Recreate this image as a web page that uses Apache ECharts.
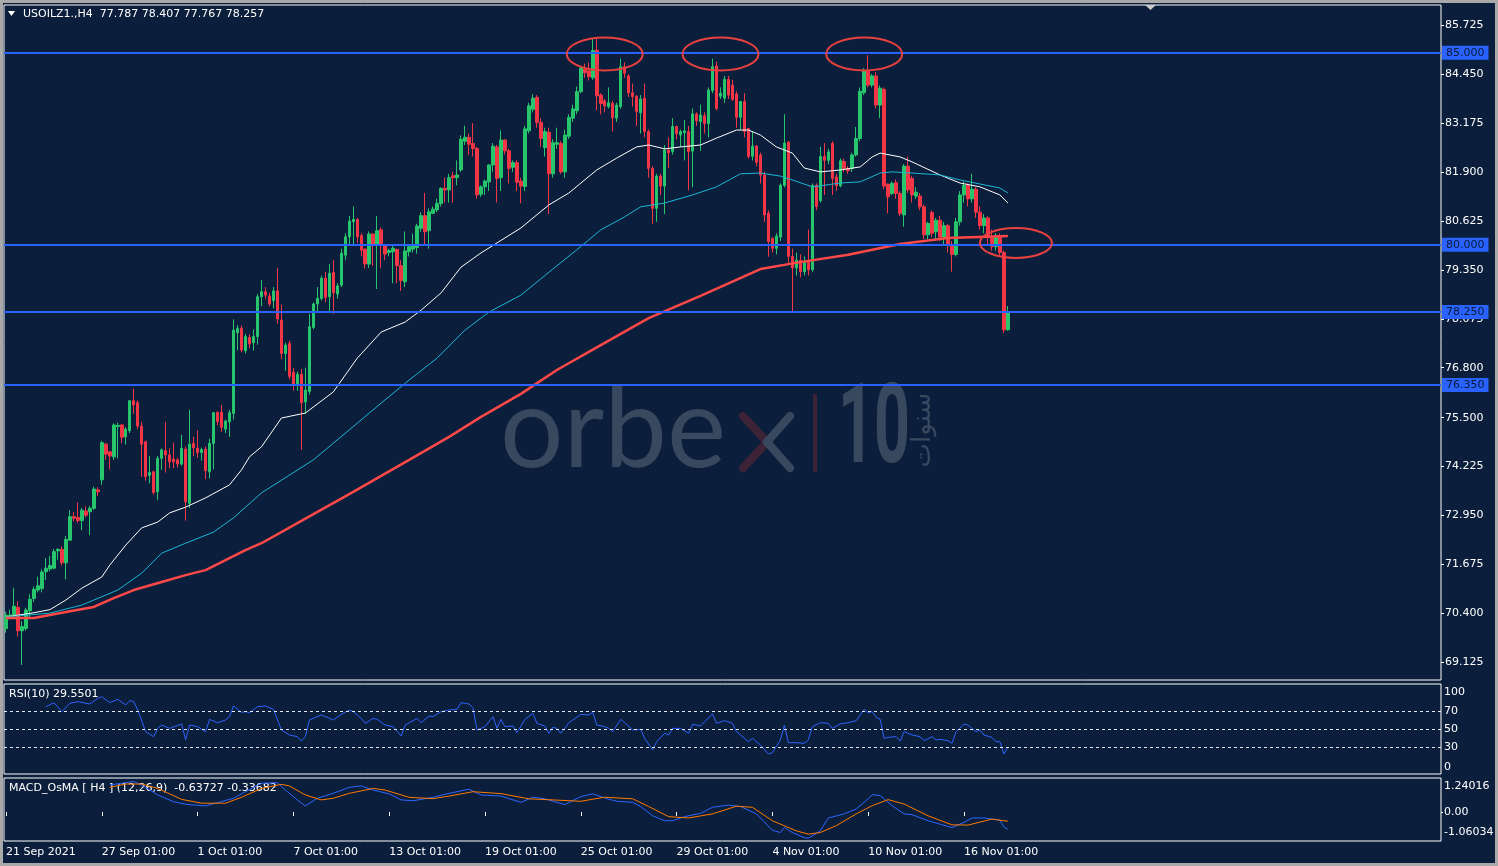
<!DOCTYPE html>
<html><head><meta charset="utf-8">
<script src="https://cdn.jsdelivr.net/npm/echarts@6/dist/echarts.min.js"></script>
<style>html,body{margin:0;padding:0;background:#0b1e3b;}#c{width:1498px;height:866px;}</style>
</head><body><div id="c"></div>
<script>
// ---------- DATA ----------
const open = [
70.01,70.30,70.36,70.56,69.95,70.01,70.47,70.79,71.01,71.05,
71.49,71.56,71.58,72.03,72.07,71.72,72.31,72.92,72.90,72.82,
73.07,73.05,73.14,73.62,73.88,74.81,74.61,74.48,75.27,75.31,
75.00,75.16,75.94,75.89,75.28,74.87,74.00,74.09,73.57,74.44,
74.64,74.53,74.42,74.40,74.29,74.68,73.27,74.83,74.70,74.59,
74.68,74.09,74.83,75.64,75.64,75.20,75.39,75.61,77.71,77.83,
77.24,77.59,77.45,77.61,78.65,78.78,78.67,78.55,78.80,78.04,
77.17,77.43,76.68,76.35,76.63,75.91,76.18,77.85,78.46,78.60,
79.13,78.65,79.28,78.72,78.95,79.73,80.21,80.60,80.66,80.24,
79.89,79.50,80.28,79.99,80.39,79.99,79.80,79.82,79.88,79.46,
79.04,79.82,79.89,79.93,80.43,80.76,80.37,80.82,80.91,81.08,
81.47,81.43,81.80,81.75,81.95,82.70,82.80,82.64,82.51,81.32,
81.51,81.64,82.08,82.55,81.75,82.73,82.45,82.02,82.14,81.66,
81.52,82.97,83.53,83.84,83.19,82.53,82.93,81.85,82.62,82.64,
81.90,82.83,83.30,83.49,83.99,84.57,84.53,84.35,85.07,83.90,
83.75,83.60,83.69,83.30,83.60,84.64,84.40,83.96,83.87,83.44,
83.82,82.95,81.99,80.95,81.79,81.53,82.47,82.43,83.08,82.86,
82.92,82.95,82.44,83.41,83.21,83.36,83.16,84.02,84.66,83.87,
83.82,84.31,84.16,83.93,83.32,83.73,83.03,82.31,82.57,82.34,
81.82,80.82,80.17,79.91,80.20,81.55,82.68,79.70,79.40,79.60,
79.30,79.55,79.35,81.55,81.15,82.30,82.20,82.64,81.77,81.54,
82.17,81.99,81.99,82.34,82.77,83.96,84.53,84.16,84.40,83.64,
84.05,81.58,81.34,81.62,81.34,80.78,82.05,81.73,81.27,81.27,
80.99,80.26,80.84,80.34,80.64,80.20,80.50,80.00,79.75,80.60,
81.30,81.55,81.20,81.45,80.85,80.50,80.70,80.20,79.95,80.20,
79.80,77.787];
const high = [
70.45,70.50,71.06,70.72,70.20,70.55,70.90,71.10,71.36,71.55,
71.84,71.90,72.08,72.10,72.15,72.42,73.09,73.05,73.29,73.15,
73.19,73.20,73.70,73.69,74.90,74.85,74.62,75.35,75.37,75.33,
75.25,75.96,76.25,75.95,75.39,74.90,74.50,74.12,74.50,74.70,
75.39,74.70,74.85,74.45,75.05,74.75,75.70,75.00,75.17,74.72,
74.75,74.95,75.65,75.66,75.83,75.45,75.70,78.06,77.91,77.90,
77.68,77.67,77.80,78.72,79.08,78.90,78.75,78.90,79.40,78.45,
77.45,77.50,76.80,76.70,76.77,76.80,78.20,78.50,78.90,79.20,
79.30,79.50,79.60,79.00,79.90,80.30,80.75,81.00,80.70,80.30,
79.90,80.35,80.30,80.75,80.45,80.00,79.90,80.00,79.90,79.60,
80.35,80.00,80.29,80.55,80.85,81.35,80.95,81.00,81.20,81.50,
81.75,81.85,81.90,82.20,82.85,83.10,82.90,83.17,82.55,81.55,
81.70,82.10,82.65,82.60,82.98,82.75,82.50,82.20,82.20,81.75,
83.10,83.70,83.92,83.90,83.30,83.05,83.05,82.75,83.05,82.70,
83.00,83.40,83.65,84.12,84.65,84.72,84.75,85.38,85.38,83.95,
83.80,84.10,83.75,83.70,84.85,84.75,84.45,84.20,83.90,83.90,
84.20,83.00,82.05,81.85,81.85,82.60,82.80,83.30,83.10,83.00,
83.25,83.10,83.55,83.45,83.65,83.45,84.10,84.85,84.77,84.10,
84.40,84.40,84.30,84.00,83.75,83.95,83.05,82.95,82.60,82.40,
81.90,80.90,80.20,80.30,81.60,83.40,82.70,79.90,79.80,79.75,
79.70,80.40,81.60,81.60,82.55,82.65,82.50,82.70,81.85,82.25,
82.25,82.05,82.40,83.07,84.10,84.60,84.94,84.45,84.50,84.15,
84.10,81.60,81.65,81.70,81.40,82.10,82.30,81.80,81.50,81.35,
81.05,80.60,80.90,80.70,80.75,80.60,80.55,80.10,80.70,81.40,
81.65,81.60,81.85,81.50,81.00,80.80,80.75,80.40,80.30,80.30,
79.85,78.407];
const low = [
69.90,70.25,70.30,69.80,69.06,69.95,70.30,70.70,70.95,70.95,
71.27,71.50,71.55,71.80,71.65,71.29,72.30,72.80,72.76,72.57,
72.90,72.44,73.10,73.46,73.75,74.40,74.15,74.40,74.44,74.83,
74.80,75.10,75.60,75.20,73.96,73.86,73.79,73.50,73.35,74.14,
74.07,74.18,74.18,74.20,74.25,72.82,73.15,74.50,74.45,74.38,
73.90,73.92,74.15,75.30,75.13,75.10,75.00,75.45,77.25,77.20,
77.17,77.31,77.25,77.40,78.40,78.60,78.40,78.35,77.95,77.02,
76.72,76.50,76.20,76.20,74.66,75.60,76.10,77.80,78.25,78.55,
78.50,78.25,78.20,78.60,78.90,79.60,80.00,80.00,80.05,79.70,
79.38,79.40,79.45,78.85,79.40,79.60,79.70,79.00,79.00,78.80,
78.90,79.70,79.80,79.77,80.34,80.00,79.90,80.80,80.85,81.00,
81.10,81.10,81.10,81.55,81.90,82.60,82.35,82.30,81.20,81.25,
81.30,81.40,81.90,81.10,81.40,82.35,81.60,81.90,81.40,81.08,
81.40,82.90,83.45,83.05,82.55,82.30,80.80,81.75,82.50,81.85,
81.75,82.76,83.20,83.40,83.95,84.35,84.28,84.30,83.50,83.40,
83.45,83.55,82.95,83.20,83.55,84.35,83.85,83.60,83.10,82.90,
82.80,81.75,80.55,80.60,81.30,80.80,82.00,82.35,82.75,82.55,
82.20,81.42,81.50,83.10,82.45,82.90,82.80,83.95,83.50,83.80,
83.70,83.80,83.75,83.05,83.00,82.80,82.25,82.20,82.05,81.60,
80.60,79.69,79.80,79.75,80.10,81.50,79.50,78.25,79.20,79.15,
79.20,79.20,79.30,80.90,81.10,81.30,82.10,81.30,81.40,81.50,
81.90,81.85,81.90,82.30,82.70,83.90,84.10,84.10,83.55,83.30,
81.45,80.82,81.30,81.20,80.75,80.47,81.35,81.10,81.20,80.90,
80.15,80.15,80.20,80.10,80.10,80.00,79.80,79.30,79.70,80.50,
81.10,81.00,81.10,80.70,80.40,80.30,80.00,79.85,79.85,79.70,
77.70,77.767];
const close = [
70.36,70.36,70.59,69.95,70.06,70.49,70.77,71.03,71.12,71.48,
71.58,71.65,72.01,72.07,71.72,72.33,72.92,72.88,72.82,73.09,
72.96,73.14,73.64,73.57,74.85,74.55,74.50,75.31,75.30,74.99,
75.20,75.94,75.83,75.28,74.81,73.96,74.07,73.55,74.44,74.66,
74.53,74.35,74.35,74.29,74.70,73.31,74.81,74.72,74.59,74.67,
74.12,74.83,75.63,75.39,75.25,75.41,75.63,77.78,77.83,77.26,
77.61,77.42,77.61,78.65,78.78,78.69,78.46,78.80,78.07,77.17,
77.39,76.57,76.35,76.63,75.89,76.22,77.87,78.46,78.61,79.13,
78.63,79.26,78.75,78.93,79.78,80.21,80.62,80.66,80.21,79.86,
79.50,80.28,79.99,80.37,79.99,79.76,79.85,79.91,79.46,79.07,
79.84,79.95,79.98,80.49,80.76,80.34,80.86,80.93,81.08,81.47,
81.43,81.75,81.75,81.82,82.75,82.80,82.62,82.51,81.30,81.51,
81.66,82.08,82.57,81.73,82.73,82.45,81.99,82.14,81.63,81.53,
83.02,83.62,83.82,83.19,82.77,82.95,81.85,82.66,82.66,81.90,
82.86,83.32,83.54,83.99,84.60,84.48,84.38,85.06,83.88,83.68,
83.62,83.70,83.31,83.64,84.64,84.47,83.96,83.86,83.47,83.80,
82.95,81.99,80.95,81.79,81.53,82.47,82.40,83.08,82.89,82.95,
82.97,82.43,83.41,83.23,83.38,83.16,84.03,84.64,83.55,83.95,
84.31,83.90,83.79,83.32,83.73,82.95,82.30,82.57,82.15,81.82,
80.78,80.08,79.91,80.23,81.55,82.65,79.70,79.40,79.60,79.30,
79.55,79.35,81.55,81.00,82.30,82.20,82.42,81.73,81.54,82.19,
81.99,81.93,82.34,82.77,84.00,84.53,84.16,84.40,83.64,84.08,
81.53,81.25,81.60,81.34,80.82,82.05,81.43,81.30,81.37,80.99,
80.26,80.56,80.30,80.64,80.20,80.50,80.00,79.75,80.60,81.30,
81.55,81.20,81.45,80.85,80.50,80.70,80.20,79.95,80.20,79.80,
77.787,78.257];

// moving averages, [bar index, value]
const maWhite = [[0,70.31],[7,70.42],[11,70.50],[15,70.75],[19,71.06],[24,71.35],[26,71.66],[30,72.18],[34,72.63],[38,72.78],[41,73.02],[45,73.17],[50,73.41],[56,73.75],[59,74.14],[61,74.48],[64,74.74],[69,75.49],[75,75.62],[82,76.17],[88,77.05],[94,77.73],[100,77.99],[104,78.30],[109,78.75],[114,79.42],[119,79.79],[123,80.05],[129,80.44],[136,81.04],[141,81.35],[148,81.95],[153,82.26],[158,82.55],[161,82.60],[165,82.50],[169,82.55],[174,82.60],[178,82.78],[183,82.99],[186,82.99],[189,82.86],[193,82.55],[197,82.39],[200,82.00],[204,81.90],[209,81.95],[214,82.03],[217,82.29],[219,82.39],[224,82.29],[227,82.16],[234,81.82],[239,81.61],[244,81.51],[249,81.30],[251,81.09]];
const maCyan = [[0,70.31],[11,70.41],[19,70.62],[28,71.01],[34,71.45],[39,71.97],[45,72.23],[52,72.52],[57,72.89],[64,73.54],[77,74.40],[86,75.18],[94,75.88],[101,76.48],[108,77.05],[115,77.78],[121,78.25],[129,78.69],[137,79.37],[143,79.87],[149,80.39],[155,80.73],[159,80.99],[165,81.09],[172,81.30],[178,81.51],[184,81.85],[189,81.87],[194,81.79],[197,81.69],[202,81.51],[209,81.61],[214,81.64],[219,81.87],[222,81.90],[227,81.87],[234,81.82],[239,81.69],[249,81.48],[251,81.35]];
const maRed = [[0,70.28],[7,70.28],[15,70.44],[22,70.57],[27,70.80],[32,71.01],[39,71.22],[45,71.40],[50,71.53],[55,71.79],[60,72.05],[64,72.23],[74,72.81],[86,73.51],[101,74.40],[111,75.00],[119,75.52],[129,76.12],[138,76.74],[149,77.39],[161,78.09],[174,78.67],[189,79.37],[199,79.55],[211,79.74],[224,80.02],[236,80.18],[251,80.23]];

const rsi = [[10,74.8],[12,79.3],[14,69.3],[16,78.5],[18,80.4],[21,77.8],[23,84.1],[24,85.9],[26,79.3],[28,83.0],[30,76.7],[31,81.5],[32,80.4],[33,71.1],[35,47.0],[37,41.5],[38,50.7],[39,54.4],[41,50.7],[44,55.6],[45,37.8],[46,54.4],[48,52.6],[50,47.0],[51,60.7],[53,57.0],[55,60.0],[56,63.7],[57,75.6],[59,68.5],[60,69.3],[61,68.1],[63,74.8],[65,75.6],[67,71.9],[69,48.9],[71,43.3],[73,41.5],[74,36.7],[75,41.5],[76,60.0],[79,65.6],[80,63.7],[82,60.0],[84,66.3],[86,71.1],[87,69.3],[89,61.8],[90,56.3],[92,61.8],[93,60.7],[95,54.4],[97,52.6],[99,42.2],[100,54.4],[103,61.8],[104,57.0],[106,64.4],[107,63.7],[109,69.3],[111,71.1],[113,71.9],[114,79.3],[116,77.8],[117,73.0],[118,48.9],[120,52.6],[122,63.7],[123,50.7],[124,60.7],[125,52.6],[127,53.3],[128,45.9],[130,60.7],[132,67.4],[133,56.3],[135,53.3],[136,45.2],[137,51.9],[138,50.7],[139,45.2],[141,57.0],[142,60.0],[144,66.3],[146,65.6],[147,68.5],[148,54.4],[150,52.6],[151,50.7],[152,47.0],[154,60.7],[155,57.0],[157,48.9],[159,49.6],[160,39.6],[162,26.7],[163,35.9],[165,45.2],[166,43.3],[167,50.7],[169,50.7],[171,45.2],[172,55.2],[174,53.3],[175,58.1],[177,66.7],[178,56.3],[180,59.3],[182,56.3],[183,47.0],[186,35.9],[187,39.6],[189,32.2],[191,22.2],[192,23.7],[194,37.8],[195,54.4],[196,34.8],[198,34.8],[200,34.1],[201,37.8],[202,52.6],[204,57.0],[206,56.3],[207,50.7],[209,55.6],[211,57.0],[213,59.3],[214,65.6],[215,71.9],[216,68.1],[217,69.3],[218,63.0],[219,60.7],[220,39.6],[221,40.7],[223,41.5],[224,36.7],[225,47.0],[227,43.3],[229,41.5],[230,37.0],[232,41.5],[233,37.8],[234,38.5],[236,37.0],[237,34.1],[238,47.0],[240,55.6],[241,54.4],[243,47.0],[244,48.9],[245,43.3],[247,40.7],[248,35.9],[249,35.9],[250,22.2],[251,29.55]];

const macdMain = [[26,0.985],[29,1.05],[32,1.11],[34,0.985],[38,0.62],[42,0.375],[45,0.28],[50,0.22],[53,0.34],[57,0.50],[60,0.74],[64,1.05],[68,1.07],[70,0.80],[73,0.44],[75,0.22],[78,0.50],[82,0.68],[86,0.90],[89,0.95],[92,0.80],[96,0.66],[99,0.44],[102,0.41],[107,0.535],[111,0.68],[116,0.83],[119,0.62],[124,0.58],[129,0.35],[132,0.54],[135,0.48],[140,0.27],[144,0.56],[147,0.66],[150,0.51],[153,0.39],[157,0.35],[159,0.20],[162,-0.14],[165,-0.32],[167,-0.32],[170,-0.17],[174,-0.05],[177,0.17],[181,0.25],[184,0.20],[188,-0.07],[192,-0.67],[194,-0.75],[195,-0.57],[197,-0.75],[200,-0.94],[201,-0.96],[204,-0.69],[206,-0.22],[210,-0.07],[213,0.11],[216,0.48],[217,0.63],[219,0.60],[222,0.23],[225,-0.07],[227,-0.10],[231,-0.32],[237,-0.57],[240,-0.38],[242,-0.22],[245,-0.22],[249,-0.30],[250,-0.55],[251,-0.63727]];
const macdSignal = [[26,0.90],[30,1.02],[34,1.02],[38,0.86],[44,0.46],[49,0.32],[55,0.32],[59,0.535],[64,0.86],[69,1.01],[71,0.95],[75,0.62],[79,0.44],[82,0.50],[86,0.68],[92,0.86],[95,0.80],[101,0.535],[107,0.485],[111,0.58],[117,0.74],[124,0.67],[131,0.48],[137,0.44],[144,0.39],[150,0.54],[157,0.48],[161,0.20],[166,-0.17],[171,-0.22],[177,-0.07],[183,0.21],[187,0.17],[192,-0.32],[198,-0.69],[201,-0.81],[204,-0.75],[208,-0.50],[213,-0.07],[217,0.23],[221,0.45],[225,0.29],[231,-0.14],[237,-0.47],[241,-0.48],[247,-0.26],[250,-0.32],[251,-0.33682]];

const tickLabels = ['21 Sep 2021','27 Sep 01:00','1 Oct 01:00','7 Oct 01:00','13 Oct 01:00','19 Oct 01:00','25 Oct 01:00','29 Oct 01:00','4 Nov 01:00','10 Nov 01:00','16 Nov 01:00'];
const TICK_EVERY = 24;
const priceTicks = [85.725,84.45,83.175,81.9,80.625,79.35,78.075,76.8,75.5,74.225,72.95,71.675,70.4,69.125];
const levels = [85.0, 80.0, 78.25, 76.35];
const rsiTicks = [0,30,50,70,100];
const rsiLevels = [70,50,30];
const macdTicks = [-1.06034, 0, 1.24016];
const headerText = 'USOILZ1.,H4  77.787 78.407 77.767 78.257';
const rsiTitle = 'RSI(10) 29.5501';
const macdTitle = 'MACD_OsMA [ H4 ] (12,26,9)  -0.63727 -0.33682';
const highlights = [{idx:149.6, price:84.97}, {idx:178.9, price:84.97}, {idx:215.4, price:84.97}, {idx:253.1, price:80.05}];

// ---------- CHART ----------
const SLOTS = 360;
const categories = Array.from({length: SLOTS}, (_, i) => String(i));
const ohlc = open.map((o, i) => [o, close[i], low[i], high[i]]);
const FONT = 'DejaVu Sans';
const BG = '#0b1e3b', GREEN = '#27c66c', RED = '#f23645', BLUE = '#2962ff';
const PRICE_MIN = 68.668, PRICE_MAX = 86.246;
const showTick = i => i % TICK_EVERY === 0 && i / TICK_EVERY < tickLabels.length;

const chart = echarts.init(document.getElementById('c'), null, {renderer: 'canvas'});
const lbl = {color: '#ffffff', fontFamily: FONT, fontSize: 11};
const option = {
  backgroundColor: BG,
  animation: false,
  grid: [
    {left: 4, right: 57, top: 5, height: 675, show: true, borderColor: '#ffffff', borderWidth: 1},
    {left: 4, right: 57, top: 684, height: 90, show: true, borderColor: '#ffffff', borderWidth: 1},
    {left: 4, right: 57, top: 778, height: 63, show: true, borderColor: '#ffffff', borderWidth: 1}
  ],
  xAxis: [0, 1, 2].map(g => ({
    type: 'category', gridIndex: g, data: categories, boundaryGap: true,
    axisLine: {show: false}, splitLine: {show: false},
    axisTick: {show: g === 2, alignWithLabel: true, interval: showTick, length: 4, lineStyle: {color: '#ffffff'}},
    axisLabel: Object.assign({show: g === 2, interval: showTick, align: 'left', margin: 6,
      formatter: (v, i) => tickLabels[i / TICK_EVERY] || ''}, lbl)
  })),
  yAxis: [
    {type: 'value', gridIndex: 0, position: 'right', min: PRICE_MIN, max: PRICE_MAX,
     splitLine: {show: false}, axisLine: {show: false},
     axisTick: {show: true, customValues: priceTicks, length: 3, lineStyle: {color: '#ffffff'}},
     axisLabel: Object.assign({customValues: priceTicks, margin: 4, formatter: v => v.toFixed(3)}, lbl)},
    {type: 'value', gridIndex: 1, position: 'right', min: 0, max: 100,
     splitLine: {show: false}, axisLine: {show: false},
     axisTick: {show: false},
     axisLabel: Object.assign({customValues: rsiTicks, margin: 3,
       formatter: v => v === 100 ? '{t|100}' : (v === 0 ? '{b|0}' : String(v)),
       rich: {t: Object.assign({padding: [16, 0, 0, 0]}, lbl), b: Object.assign({padding: [0, 0, 14, 0]}, lbl)}}, lbl)},
    {type: 'value', gridIndex: 2, position: 'right', min: macdTicks[0], max: macdTicks[2],
     splitLine: {show: false}, axisLine: {show: false},
     axisTick: {show: true, customValues: [0], length: 2, lineStyle: {color: '#ffffff'}},
     axisLabel: Object.assign({customValues: macdTicks, margin: 3,
       formatter: v => v === macdTicks[2] ? '{t|' + v.toFixed(5) + '}' : (v === macdTicks[0] ? '{b|' + v.toFixed(5) + '}' : '0.00'),
       rich: {t: Object.assign({padding: [16, 0, 0, 0]}, lbl), b: Object.assign({padding: [0, 0, 18, 0]}, lbl)}}, lbl)}
  ],
  series: [
    {type: 'candlestick', xAxisIndex: 0, yAxisIndex: 0, data: ohlc, barWidth: 3,
     itemStyle: {color: GREEN, color0: RED, borderColor: GREEN, borderColor0: RED, borderWidth: 1},
     markLine: {silent: true, symbol: ['none', 'none'], animation: false,
       lineStyle: {color: BLUE, width: 2, type: 'solid'},
       label: {position: 'end', distance: 1, formatter: p => Number(p.value).toFixed(3),
         backgroundColor: BLUE, color: '#0a1a33', fontFamily: FONT, fontSize: 11, padding: [2, 4, 1, 4]},
       emphasis: {disabled: true},
       data: levels.map(v => ({yAxis: v}))}},
    {type: 'line', xAxisIndex: 0, yAxisIndex: 0, data: maWhite, showSymbol: false, silent: true,
     lineStyle: {color: '#ffffff', width: 1}},
    {type: 'line', xAxisIndex: 0, yAxisIndex: 0, data: maCyan, showSymbol: false, silent: true,
     lineStyle: {color: '#1bb6d3', width: 1}},
    {type: 'line', xAxisIndex: 0, yAxisIndex: 0, data: maRed, showSymbol: false, silent: true,
     lineStyle: {color: '#ff4848', width: 2.5}},
    {type: 'line', xAxisIndex: 1, yAxisIndex: 1, data: rsi, showSymbol: false, silent: true,
     lineStyle: {color: '#2f62ff', width: 1},
     markLine: {silent: true, symbol: ['none', 'none'], label: {show: false},
       lineStyle: {color: '#e8ecf5', width: 1, type: [3, 3]}, emphasis: {disabled: true},
       data: rsiLevels.map(v => ({yAxis: v}))}},
    {type: 'line', xAxisIndex: 2, yAxisIndex: 2, data: macdMain, showSymbol: false, silent: true,
     lineStyle: {color: '#2f66ff', width: 1}},
    {type: 'line', xAxisIndex: 2, yAxisIndex: 2, data: macdSignal, showSymbol: false, silent: true,
     lineStyle: {color: '#ff7a00', width: 1}}
  ]
};
chart.setOption(option);

// decorations (watermark, titles, frame, annotation ellipses)
const SLATE = '#38495f', MAROON = '#3d2338';
const seg = (x1, y1, x2, y2, c) => ({type: 'line', z: -1, silent: true, shape: {x1, y1, x2, y2},
  style: {stroke: c, lineWidth: 8, lineCap: 'round'}});
const g = [
  {type: 'rect', shape: {x: 0, y: 0, width: 1498, height: 3}, style: {fill: '#a9a9a9'}, silent: true},
  {type: 'rect', shape: {x: 0, y: 0, width: 3, height: 866}, style: {fill: '#a9a9a9'}, silent: true},
  {type: 'rect', shape: {x: 1495, y: 0, width: 3, height: 866}, style: {fill: '#a9a9a9'}, silent: true},
  {type: 'rect', shape: {x: 0, y: 863, width: 1498, height: 3}, style: {fill: '#a9a9a9'}, silent: true},
  {type: 'polygon', shape: {points: [[1145, 5], [1156, 5], [1150.5, 10]]}, style: {fill: '#c8c8c8'}, silent: true},
  {type: 'text', z: -1, x: 500, y: 431, style: {text: 'orbe', fill: SLATE, font: '400 112px Lato', verticalAlign: 'middle'}, silent: true},
  seg(743, 416, 767, 442, MAROON), seg(767, 442, 743, 468, MAROON),
  seg(767, 442, 790, 416, SLATE), seg(767, 442, 790, 468, SLATE),
  {type: 'rect', z: -1, shape: {x: 813, y: 394, width: 4, height: 78}, style: {fill: MAROON}, silent: true},
  {type: 'text', z: -1, x: 838, y: 434, scaleX: 0.56, style: {text: '10', fill: SLATE, font: 'bold 112px Roboto', verticalAlign: 'middle'}, silent: true},
  {type: 'text', z: -1, x: 923, y: 430, rotation: Math.PI / 2, style: {text: 'سنوات', fill: SLATE, font: '26px "DejaVu Sans"', align: 'center', verticalAlign: 'middle'}, silent: true},
  {type: 'polygon', shape: {points: [[8, 11], [15, 11], [11.5, 16]]}, style: {fill: '#ffffff'}, silent: true},
  {type: 'text', x: 23, y: 14, style: {text: headerText, fill: '#ffffff', font: '11px "DejaVu Sans"', verticalAlign: 'middle'}, silent: true},
  {type: 'text', x: 9, y: 694, style: {text: rsiTitle, fill: '#ffffff', font: '11px "DejaVu Sans"', verticalAlign: 'middle'}, silent: true},
  {type: 'text', x: 9, y: 788, style: {text: macdTitle, fill: '#ffffff', font: '11px "DejaVu Sans"', verticalAlign: 'middle'}, silent: true}
];
highlights.forEach(h => {
  const p = chart.convertToPixel({xAxisIndex: 0, yAxisIndex: 0}, [h.idx, h.price]);
  const big = h.price > 84;
  g.push({type: 'ellipse', shape: {cx: p[0], cy: p[1], rx: big ? 38 : 36, ry: big ? 16.5 : 15},
    style: {fill: 'none', stroke: '#e8413f', lineWidth: 2}, silent: true, z: 10});
});
chart.setOption({graphic: g});
</script>
</body></html>
